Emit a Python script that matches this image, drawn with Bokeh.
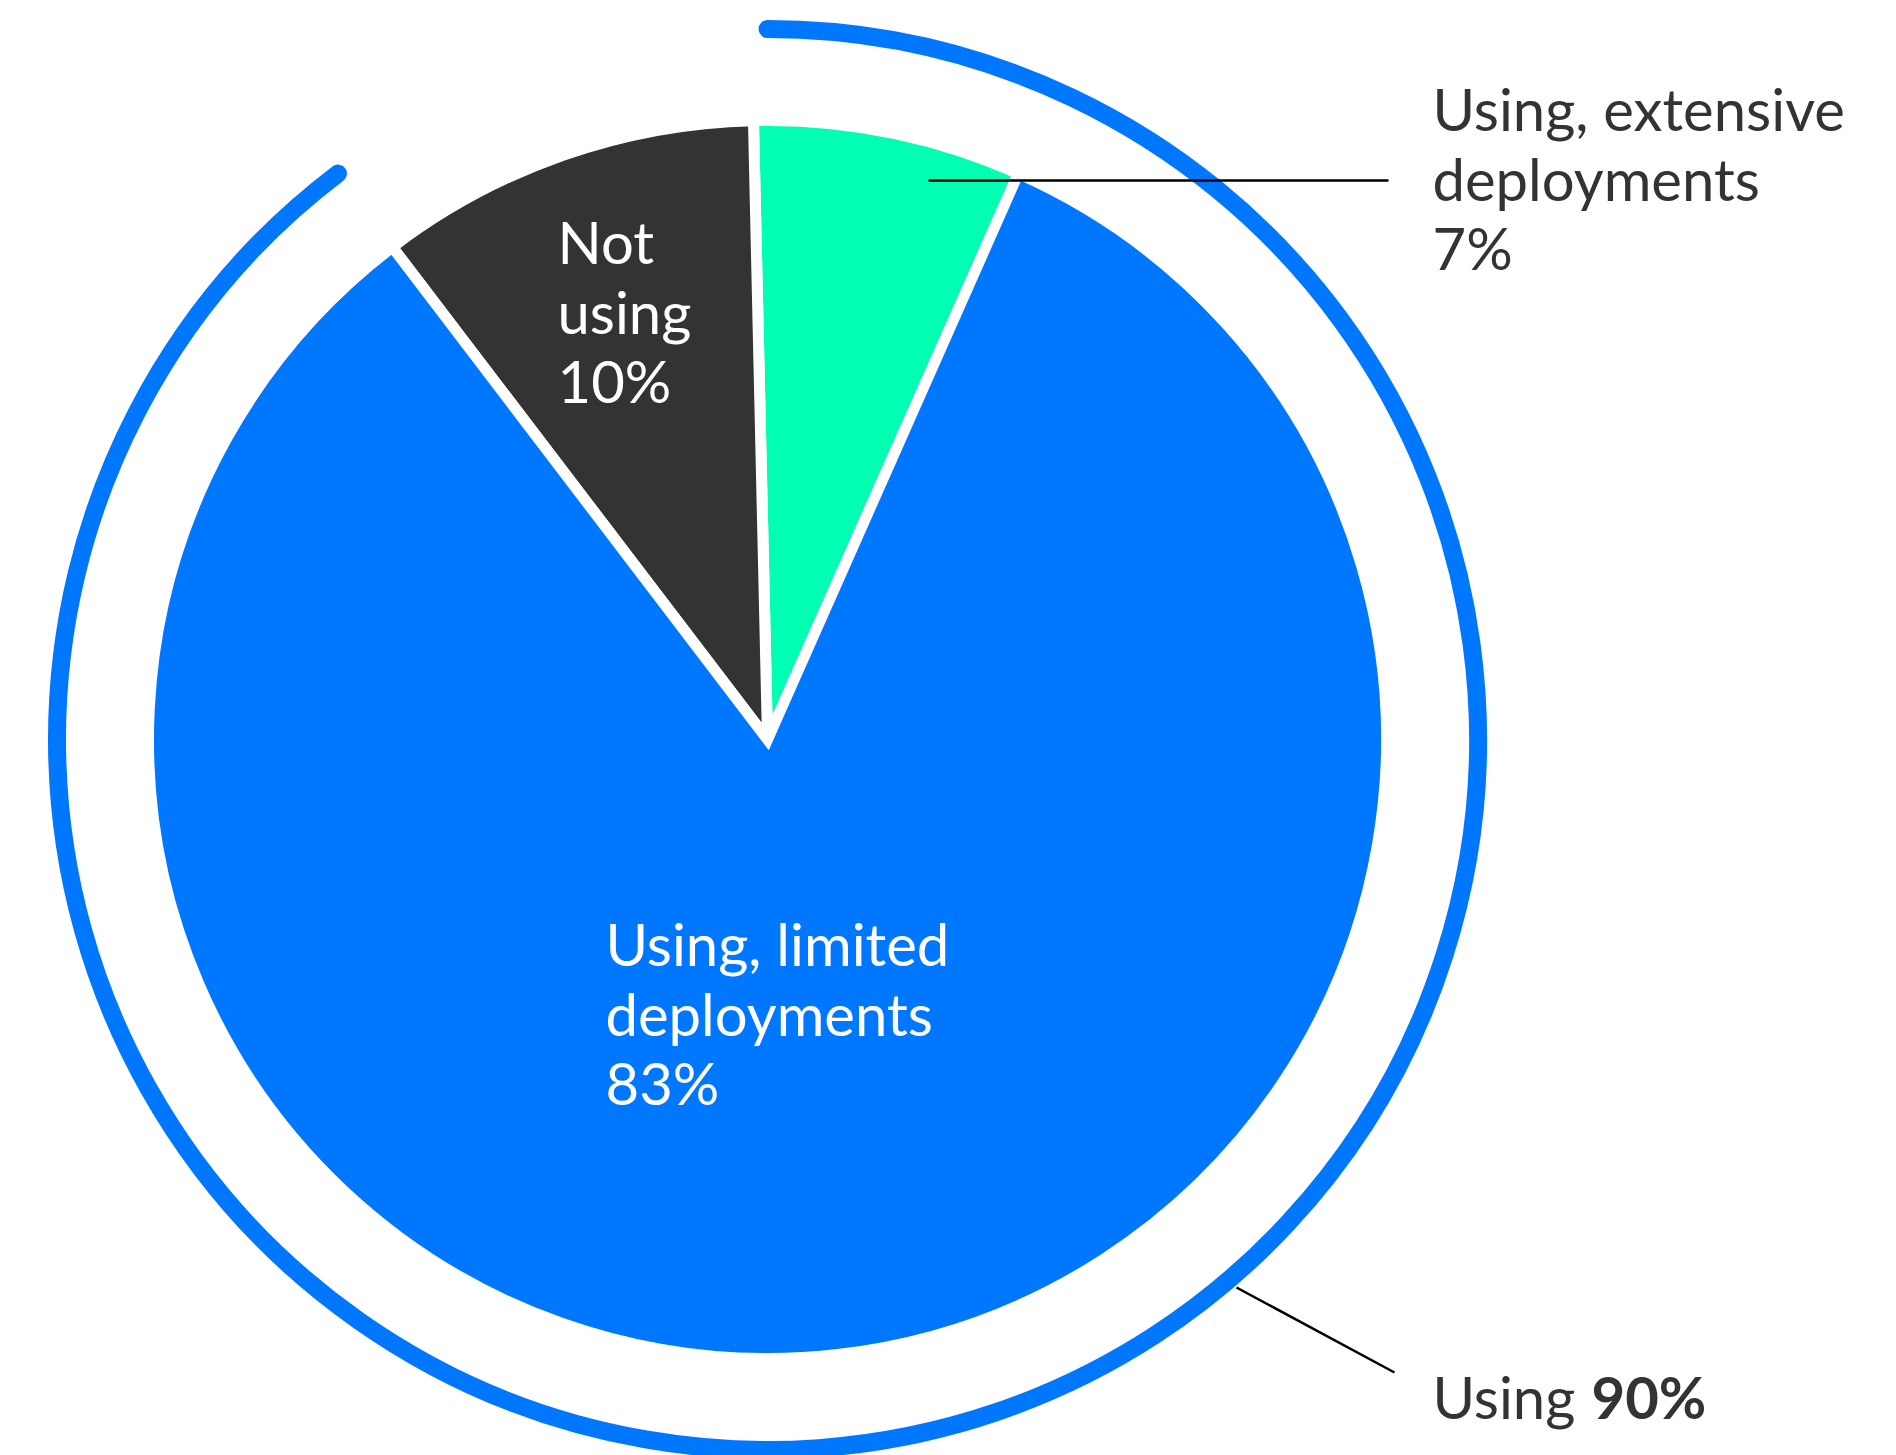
import numpy as np
from bokeh.plotting import figure
from bokeh.core.properties import value
from bokeh.embed import file_html
from bokeh.resources import INLINE

# ---- data ----
categories = ["Using, extensive\ndeployments", "Using, limited\ndeployments", "Not\nusing"]
values = [7, 83, 10]
colors = ["#00FFB2", "#0077FF", "#333333"]
total_label = "Using"
total_value = 90

# ---- layout ----
W, H = 1896, 1455
p = figure(width=W, height=H, x_range=(0, W), y_range=(0, H),
           output_backend="svg", toolbar_location=None, min_border=0)
p.axis.visible = False
p.grid.visible = False
p.outline_line_color = None
p.background_fill_color = "white"
p.border_fill_color = "white"

cx, cy = 767, H - 739
r_pie = 619
r_ring = 710.5
rot = 1.3        # degrees the pie is turned anticlockwise from 12 o'clock
ring_trim = 1.2  # degrees left open at the end of the ring (for the round cap)

vals = np.array(values, dtype=float)
cum = np.concatenate([[0.0], np.cumsum(vals)])
start = np.deg2rad(90 + rot - cum[:-1] * 3.6)
end = np.deg2rad(90 + rot - cum[1:] * 3.6)

# small slices first, the big slice last (its white edge forms the V at the centre)
order = [0, 2, 1]
for i in order:
    p.wedge(x=cx, y=cy, radius=r_pie, start_angle=start[i], end_angle=end[i],
            direction="clock", fill_color=colors[i], line_color="white",
            line_width=11, line_join="miter")

# outer ring for the "Using" total
p.arc(x=cx, y=cy, radius=r_ring, start_angle=np.deg2rad(90),
      end_angle=np.deg2rad(90 - total_value * 3.6 + ring_trim), direction="clock",
      line_color="#0077FF", line_width=18, line_cap="round")

# leader lines
p.line(x=[928, 1388], y=[H - 180, H - 180], line_color="black", line_width=2.5)
p.line(x=[1236, 1394], y=[H - 1287, H - 1372], line_color="black", line_width=2.5)

FS = "58px"
LH = 69.5
FONT = value("Lato")
DY = -22  # baseline correction


def lines_text(x, y_first, text_lines, color, style="normal"):
    for k, t in enumerate(text_lines):
        p.text(x=[x], y=[H - (y_first + DY + k * LH)], text=[t], text_font=FONT,
               text_font_size=FS, text_color=color, text_baseline="alphabetic",
               text_align="left", text_font_style=style)


lines_text(1432, 130, categories[0].split("\n") + [f"{values[0]}%"], "#333333")
lines_text(605, 965, categories[1].split("\n") + [f"{values[1]}%"], "white")
lines_text(557, 263, categories[2].split("\n") + [f"{values[2]}%"], "white")

lines_text(1432, 1418, [total_label + " "], "#333333")
lines_text(1591, 1418, [f"{total_value}%"], "#333333", style="bold")

open("out.html", "w").write(file_html(p, INLINE))
